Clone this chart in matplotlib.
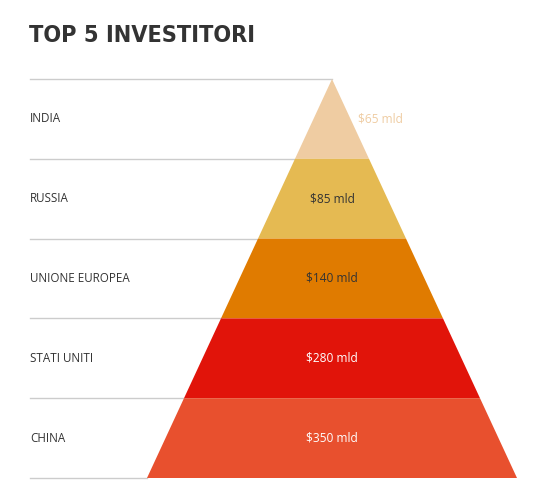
import matplotlib
matplotlib.use("Agg")
import matplotlib.pyplot as plt
from matplotlib import font_manager

# Data
categories = ["INDIA", "RUSSIA", "UNIONE EUROPEA", "STATI UNITI", "CHINA"]
values = [65, 85, 140, 280, 350]
value_labels = [f"${v} mld" for v in values]
colors = ["#EFCCA2", "#E5BA52", "#E07B00", "#E1140A", "#E8502E"]
label_colors = ["#EFCCA2", "#333333", "#333333", "#FFFFFF", "#FFFFFF"]
title = "TOP 5 INVESTITORI"

W, H = 548, 500
fig = plt.figure(figsize=(W / 100, H / 100), dpi=100)
ax = fig.add_axes([0, 0, 1, 1])
ax.set_xlim(0, W)
ax.set_ylim(H, 0)
ax.axis("off")

names = {f.name for f in font_manager.fontManager.ttflist}
text_font = "Open Sans" if "Open Sans" in names else "DejaVu Sans"

# layout
apex_x, top_y, bottom_y, half_base = 332, 79, 478, 185
n = len(categories)
seg_h = (bottom_y - top_y) / n
slope = half_base / (bottom_y - top_y)
line_left = 30

def half_w(y):
    return (y - top_y) * slope

for i, (cat, lab, c, lc) in enumerate(zip(categories, value_labels, colors, label_colors)):
    y0 = top_y + i * seg_h
    y1 = y0 + seg_h
    w0, w1 = half_w(y0), half_w(y1)
    ax.fill([apex_x - w0, apex_x + w0, apex_x + w1, apex_x - w1],
            [y0, y0, y1, y1], color=c, lw=0, zorder=2)
    ax.plot([line_left, apex_x - w0], [y0, y0], color="#cccccc", lw=1, zorder=1)
    ym = (y0 + y1) / 2
    ax.text(line_left, ym, cat, ha="left", va="center", fontsize=8.4,
            color="#333333", family=text_font)
    if i == 0:
        ax.text(apex_x + half_w(ym) + 7, ym, lab, ha="left", va="center",
                fontsize=8.6, color=lc, family=text_font)
    else:
        ax.text(apex_x, ym, lab, ha="center", va="center", fontsize=8.6,
                color=lc, family=text_font)

ax.plot([line_left, apex_x - half_w(bottom_y)], [bottom_y, bottom_y],
        color="#cccccc", lw=1, zorder=1)

ax.text(29, 35, title, ha="left", va="center", fontsize=16.8, fontweight="bold",
        color="#333333", family="DejaVu Sans", fontstretch="condensed")

fig.savefig("out.png", dpi=100)
